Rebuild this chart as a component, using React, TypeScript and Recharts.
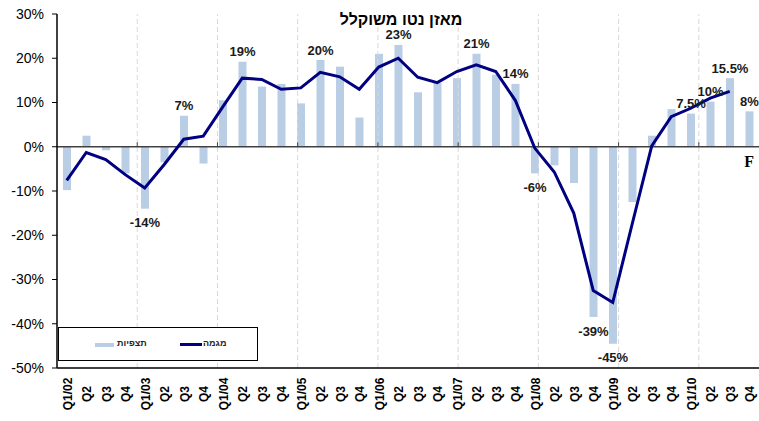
import React from 'react';
import {
  ComposedChart, Bar, Line, XAxis, YAxis, ReferenceLine, ReferenceDot, LabelList,
} from 'recharts';

// quarter ids (unique) and what the axis prints for them
const quarters = [
  'Q1/02', 'Q2/02', 'Q3/02', 'Q4/02', 'Q1/03', 'Q2/03', 'Q3/03', 'Q4/03',
  'Q1/04', 'Q2/04', 'Q3/04', 'Q4/04', 'Q1/05', 'Q2/05', 'Q3/05', 'Q4/05',
  'Q1/06', 'Q2/06', 'Q3/06', 'Q4/06', 'Q1/07', 'Q2/07', 'Q3/07', 'Q4/07',
  'Q1/08', 'Q2/08', 'Q3/08', 'Q4/08', 'Q1/09', 'Q2/09', 'Q3/09', 'Q4/09',
  'Q1/10', 'Q2/10', 'Q3/10', 'Q4/10',
];
const tickLabels = quarters.map((q) => (q.startsWith('Q1/') ? q : q.slice(0, 2)));

// תצפיות (bars)
const observed = [
  -9.8, 2.5, -0.8, -6, -14, -3.5, 7, -3.8,
  10.5, 19.2, 13.6, 14.2, 9.8, 19.6, 18.1, 6.6,
  21, 23, 12.3, 14.4, 15.5, 21, 16.3, 14.2,
  -6, -4.2, -8.2, -38.5, -44.5, -12.5, 2.5, 8.5,
  7.5, 10.2, 15.5, 8,
];

// מגמה (line)
const trend = [
  -7.6, -1.3, -2.9, -6.3, -9.3, -4, 1.7, 2.4,
  9, 15.5, 15.2, 13, 13.3, 16.8, 15.8, 13,
  18, 20, 15.7, 14.5, 17, 18.5, 17, 10.5,
  -0.3, -5.7, -15, -32.5, -35.2, -17.4, 0.2, 6.8,
  8.7, 11, 12.5, null,
];

// labels printed on some of the bars
const barLabels = [
  '', '', '', '', '-14%', '', '7%', '',
  '', '19%', '', '', '', '20%', '', '',
  '', '23%', '', '', '', '21%', '', '14%',
  '-6%', '', '', '-39%', '-45%', '', '', '',
  '7.5%', '10%', '15.5%', '8%',
];

const yTicks = [-50, -40, -30, -20, -10, 0, 10, 20, 30];

const seriesNames = { observed: 'תצפיות', trend: 'מגמה' };
const chartTitle = 'מאזן נטו משוקלל';

const data = quarters.map((q, i) => ({
  q,
  observed: observed[i],
  trend: trend[i],
  label: barLabels[i],
}));

// year boundaries (before each Q1 except the first)
const yearBreaks = quarters
  .map((q, i) => (q.startsWith('Q1/') && i > 0 ? i : -1))
  .filter((i) => i > 0);

const BAR_COLOR = '#b9cde5';
const LINE_COLOR = '#000080';
const FONT = '"Liberation Sans", Arial, sans-serif';

const XTick = (props: any) => {
  const { x, y, payload } = props;
  const idx = quarters.indexOf(payload.value);
  return (
    <text
      transform={`translate(${x + 1}, ${y + 26}) rotate(-90)`}
      textAnchor="middle"
      dominantBaseline="central"
      fontFamily={FONT}
      fontWeight="bold"
      fontSize={12}
      fill="#000"
    >
      {tickLabels[idx]}
    </text>
  );
};

const renderBarLabel = (props: any) => {
  const { value } = props;
  if (!value) return null;
  const vb = props.viewBox || props;
  const x = vb.x ?? props.x;
  const y = vb.y ?? props.y;
  const w = vb.width ?? props.width;
  const h = vb.height ?? props.height;
  const top = Math.min(y, y + h);
  const bottom = Math.max(y, y + h);
  const neg = String(value).startsWith('-');
  const cy = neg ? bottom + 14 : top - 10;
  return (
    <text
      x={x + w / 2}
      y={cy}
      textAnchor="middle"
      dominantBaseline="central"
      fontFamily={FONT}
      fontWeight="bold"
      fontSize={13}
      fill="#1a1a1a"
    >
      {value}
    </text>
  );
};

const LegendBox = () => (
  <div
    style={{
      position: 'absolute', left: 58, top: 327, width: 200, height: 34,
      border: '1px solid #000', background: '#fff', boxSizing: 'border-box',
      fontFamily: FONT, fontSize: 9, fontWeight: 'bold', color: '#222',
    }}
  >
    <div style={{ position: 'absolute', left: 36, top: 15, width: 19, height: 4, background: BAR_COLOR }} />
    <div style={{ position: 'absolute', left: 58, top: 10, direction: 'rtl' }}>{seriesNames.observed}</div>
    <div style={{ position: 'absolute', left: 121, top: 15, width: 22, height: 3, background: LINE_COLOR }} />
    <div style={{ position: 'absolute', left: 144, top: 10, direction: 'rtl' }}>{seriesNames.trend}</div>
  </div>
);

export default function App() {
  return (
    <div style={{ position: 'absolute', left: 0, top: 0, width: 759, height: 421, background: '#fff', overflow: 'hidden' }}>
      <ComposedChart
        width={759}
        height={421}
        data={data}
        margin={{ top: 14, right: 0, bottom: 0, left: 0 }}
        barSize={8}
      >
        <XAxis
          xAxisId="cat"
          dataKey="q"
          interval={0}
          height={53}
          tickLine={false}
          tickSize={0}
          tickMargin={0}
          axisLine={{ stroke: '#000', strokeWidth: 1.5 }}
          tick={<XTick />}
        />
        <XAxis xAxisId="grid" type="number" domain={[0, quarters.length]} hide />
        <YAxis
          domain={[-50, 30]}
          ticks={yTicks}
          interval={0}
          width={57}
          tickFormatter={(v: number) => `${v}%`}
          tick={{ fontSize: 14, fill: '#000', fontFamily: FONT }}
          tickSize={5}
          tickMargin={8}
          tickLine={{ stroke: '#000' }}
          axisLine={{ stroke: '#000', strokeWidth: 1.5 }}
        />
        {yearBreaks.map((b) => (
          <ReferenceLine key={`g${b}`} xAxisId="grid" x={b} stroke="#d9d9d9" strokeDasharray="5 3" />
        ))}
        <ReferenceLine xAxisId="grid" y={0} stroke="#404040" strokeWidth={1.5} />
        {yearBreaks.map((b) => (
          <ReferenceLine
            key={`t${b}`}
            xAxisId="grid"
            segment={[{ x: b, y: 0 }, { x: b, y: 1 }]}
            stroke="#404040"
          />
        ))}
        <ReferenceLine
          xAxisId="grid"
          segment={[{ x: 12, y: 30 }, { x: quarters.length, y: 30 }]}
          stroke="#000"
          strokeWidth={1.5}
        />
        <Bar xAxisId="cat" dataKey="observed" name={seriesNames.observed} fill={BAR_COLOR} isAnimationActive={false}>
          <LabelList dataKey="label" content={renderBarLabel} />
        </Bar>
        <Line
          xAxisId="cat"
          type="linear"
          dataKey="trend"
          name={seriesNames.trend}
          stroke={LINE_COLOR}
          strokeWidth={3}
          dot={false}
          activeDot={false}
          isAnimationActive={false}
        />
        <ReferenceDot
          xAxisId="cat"
          x="Q4/10"
          y={-3.4}
          r={0}
          fill="none"
          stroke="none"
          label={(p: any) => (
            <text
              x={p.viewBox.x}
              y={p.viewBox.y}
              textAnchor="middle"
              dominantBaseline="central"
              fontFamily='"Liberation Serif", "Times New Roman", serif'
              fontWeight="bold"
              fontSize={16}
              fill="#000"
            >
              F
            </text>
          )}
        />
      </ComposedChart>
      <LegendBox />
      <div
        style={{
          position: 'absolute', left: 335, top: 11, width: 132, textAlign: 'center',
          direction: 'rtl', fontFamily: FONT, fontWeight: 'bold', fontSize: 16, color: '#000',
          whiteSpace: 'nowrap',
        }}
      >
        {chartTitle}
      </div>
    </div>
  );
}
